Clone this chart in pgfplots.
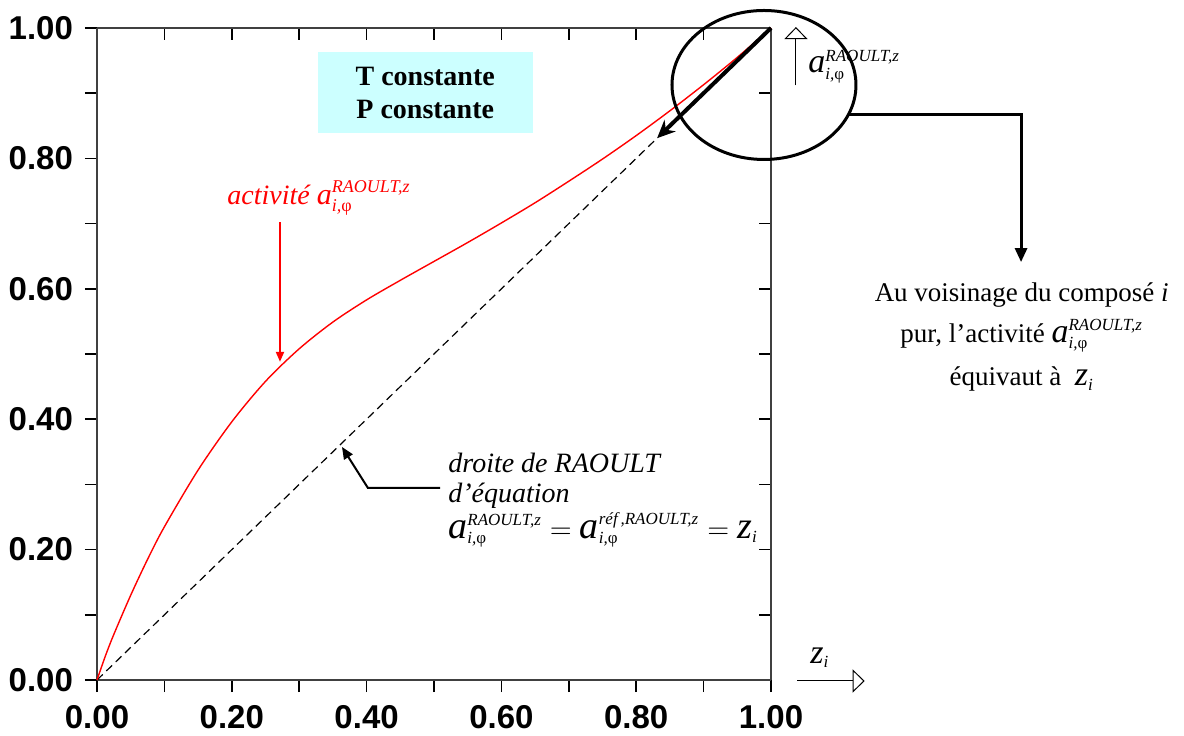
\documentclass[border=0pt]{standalone}
\usepackage{fontspec}
\setmainfont{Liberation Serif}
\setsansfont{Liberation Sans}
\usepackage{amsmath}
\usepackage{pgfplots}
\pgfplotsset{compat=1.18}
\usetikzlibrary{arrows.meta}
\definecolor{boxc}{HTML}{CCFFFF}
\newcommand{\aR}[3]{\ensuremath{\text{\fontsize{#1}{#1}\selectfont\itshape a}^{\text{\fontsize{#2}{#2}\selectfont\itshape #3}}_{\text{\fontsize{#2}{#2}\selectfont\itshape i,\upshape φ}}}}
\newcommand{\zi}[2]{\ensuremath{\text{\fontsize{#1}{#1}\selectfont\itshape z}_{\text{\fontsize{#2}{#2}\selectfont\itshape i}}}}
\begin{document}
\begin{tikzpicture}
\pgfplotsset{
  common/.style={scale only axis, width=337pt, height=326pt,
    xmin=0, xmax=1, ymin=0, ymax=1,
    xtick={0,0.2,0.4,0.6,0.8,1}, ytick={0,0.2,0.4,0.6,0.8,1},
    minor tick num=1, major tick length=6pt, minor tick length=6pt,
    tick style={black, line width=0.75pt},
    axis line style={black!75, line width=0.75pt}}
}
\begin{axis}[common, axis x line*=top, axis y line*=right, tick align=inside,
  xticklabels={}, yticklabels={}]
\end{axis}
\begin{axis}[common, axis x line*=bottom, axis y line*=left, tick align=outside, clip=false,
  xticklabels={0.00,0.20,0.40,0.60,0.80,1.00},
  yticklabels={0.00,0.20,0.40,0.60,0.80,1.00},
  ticklabel style={font=\fontsize{16.5}{16.5}\selectfont\sffamily\bfseries},
  xticklabel style={yshift=-3pt},
  yticklabel style={xshift=-2.5pt}]
\fill[boxc] (axis cs:0.328,0.839) rectangle (axis cs:0.647,0.963);
\node[align=center, font=\fontsize{14}{16.5}\selectfont\bfseries] at (axis cs:0.487,0.901) {T constante\\P constante};
\addplot[black, dash pattern=on 4pt off 2.5pt, line width=0.6pt] coordinates {(0,0) (0.83,0.83)};
\addplot[red, line width=0.7pt, smooth, tension=0.5] coordinates {
(0,0) (0.0125,0.037) (0.025,0.07) (0.05,0.13) (0.075,0.185) (0.1,0.235) (0.15,0.322) (0.2,0.396)
(0.25,0.458) (0.3,0.508) (0.35,0.549) (0.4,0.583) (0.45,0.613) (0.5,0.642) (0.55,0.671)
(0.6,0.701) (0.65,0.732) (0.7,0.765) (0.75,0.799) (0.8,0.835) (0.85,0.873) (0.9,0.913)
(0.95,0.955) (1,1)};
\node[anchor=base west, inner sep=0, red, font=\fontsize{14}{14}\selectfont\itshape] at (axis cs:0.193,0.729) {activité \aR{15}{9}{RAOULT,z}};
\draw[red, line width=1pt, -{Triangle[length=5pt,width=4pt]}] (axis cs:0.2715,0.702) -- (axis cs:0.2715,0.488);
\draw[line width=2pt, -{Stealth[length=9pt,width=8pt]}] (axis cs:1,1) -- (axis cs:0.831,0.831);
\draw[line width=1.5pt] (axis cs:0.9896,0.9126) ellipse [x radius=46pt, y radius=37.25pt];
\draw[line width=1.5pt, -{Triangle[length=7pt,width=6pt]}] (axis cs:1.114,0.8666) -- (axis cs:1.371,0.8666) -- (axis cs:1.371,0.641);
\draw[line width=0.5pt, -{Triangle[open,length=6pt,width=11.5pt]}] (axis cs:1.037,0.912) -- (axis cs:1.037,1.0015);
\node[anchor=base west, inner sep=0] at (axis cs:1.055,0.931) {\aR{17}{8.5}{RAOULT,z}};
\draw[line width=0.5pt, -{Triangle[open,length=6pt,width=11.5pt]}] (axis cs:1.0386,-0.0015) -- (axis cs:1.139,-0.0015);
\node[anchor=base west, inner sep=0] at (axis cs:1.058,0.026) {\zi{17}{8.5}};
\node[anchor=base, inner sep=0, font=\fontsize{13.5}{13.5}\selectfont] at (axis cs:1.372,0.581) {Au voisinage du composé \textit{i}};
\node[anchor=base, inner sep=0, font=\fontsize{13.5}{13.5}\selectfont] at (axis cs:1.372,0.517) {pur, l’activité \aR{17}{8.5}{RAOULT,z}};
\node[anchor=base, inner sep=0, font=\fontsize{13.5}{13.5}\selectfont] at (axis cs:1.372,0.451) {équivaut à \ \zi{17}{8.5}};
\node[anchor=base west, inner sep=0, font=\fontsize{14}{14}\selectfont\itshape] at (axis cs:0.5208,0.319) {droite de RAOULT};
\node[anchor=base west, inner sep=0, font=\fontsize{14}{14}\selectfont\itshape] at (axis cs:0.5208,0.273) {d{\char"27}équation};
\node[anchor=base west, inner sep=0, font=\fontsize{14}{14}\selectfont] at (axis cs:0.5208,0.2178) {$\aR{19}{8.5}{RAOULT,z} = \aR{19}{8.5}{réf\,,RAOULT,z} = \zi{19}{8.5}$};
\draw[line width=1pt, -{Triangle[length=6pt,width=5pt]}] (axis cs:0.509,0.2945) -- (axis cs:0.402,0.2945) -- (axis cs:0.3635,0.3574);
\end{axis}
\pgfresetboundingbox
\path[use as bounding box] ([shift={(-48.5pt,-27.5pt)}]current axis.south west) rectangle ([shift={(206.5pt,14pt)}]current axis.north east);
\end{tikzpicture}
\end{document}
